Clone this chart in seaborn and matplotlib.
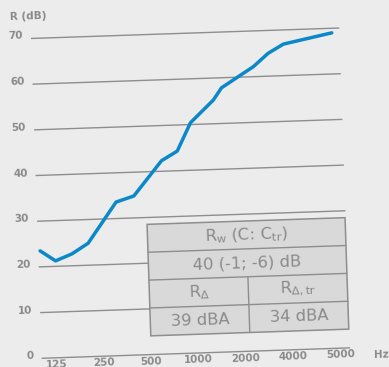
import numpy as np
import pandas as pd
import seaborn as sns
import matplotlib
matplotlib.use("Agg")
import matplotlib.pyplot as plt
from matplotlib.transforms import Affine2D
from matplotlib.patches import Polygon

# Frequency axis: labelled slots, evenly spaced along the bottom edge
freq_labels = ["125", "250", "500", "1000", "2000", "4000", "5000"]
# Sound reduction index R (dB) along the frequency axis (position in label slots)
x_slot = [-0.27, 0.05, 0.40, 0.75, 1.37, 1.75, 2.36, 2.70, 3.00, 3.50, 3.68, 4.37, 4.69, 5.02, 6.05]
r_db = [23.5, 21.2, 22.6, 24.8, 33.6, 34.8, 42.3, 44.3, 50.4, 55.2, 57.8, 62.2, 65.0, 66.9, 69.0]
# Gridline levels
r_ticks = [0, 10, 20, 30, 40, 50, 60, 70]
# Summary table
table_header = r"R$_\mathregular{w}$ (C: C$_\mathregular{tr}$)"
table_value = "40 (-1; -6) dB"
sub_headers = [r"R$_\mathregular{\Delta}$", r"R$_\mathregular{\Delta,tr}$"]
sub_values = ["39 dBA", "34 dBA"]

BG = "#ececec"
GRID = "#8e8e8e"
TEXT = "#8a8a8a"
BLUE = "#0a88c9"
CELL = "#d9d9d9"

sns.set_theme(style="white")
plt.rcParams["font.family"] = ["DejaVu Sans"]
plt.rcParams["mathtext.fontset"] = "dejavusans"

W, H = 389, 367
fig = plt.figure(figsize=(W / 100, H / 100), dpi=100, facecolor=BG)
ax = fig.add_axes([0, 0, 1, 1])
ax.set_facecolor(BG)

# Oblique projection of the chart plane (slot, dB) onto the canvas
plane = Affine2D(np.array([[47.25, -0.153, 56.45],
                           [-1.602, -4.569, 357.8],
                           [0.0, 0.0, 1.0]]))
T = plane + ax.transData
angle = np.degrees(np.arctan2(1.602, 47.25))

axis_font = dict(fontsize=7.5, color=TEXT, fontweight="bold",
                 rotation=angle, rotation_mode="anchor", transform=T)

# Gridlines
s_left, s_right = -0.312, 6.213
for v in r_ticks:
    ax.plot([s_left, s_right], [v, v], color=GRID, lw=1.0, transform=T, zorder=1,
            solid_capstyle="butt")
    ax.text(-0.48, v + 0.6, str(v), ha="right", va="center", **axis_font)

# Frequency labels
for i, lab in enumerate(freq_labels):
    ax.text(i, -1.45, lab, ha="center", va="center", **axis_font)
ax.text(6.86, -1.8, "Hz", ha="center", va="center", **axis_font)
ax.text(-0.746, 74.85, "R (dB)", ha="left", va="center", **axis_font)

# Measured curve
df = pd.DataFrame({"slot": x_slot, "R": r_db})
sns.lineplot(data=df, x="slot", y="R", ax=ax, color=BLUE, lw=2.5, sort=False,
             estimator=None, zorder=4)
curve = ax.lines[-1]
curve.set_transform(T)
curve.set_solid_joinstyle("round")

# Summary table
t_l, t_r, t_top, t_bot = 2.01, 6.20, 28.5, 4.1
t_mid = (t_l + t_r) / 2
row_h = (t_top - t_bot) / 4
ax.add_patch(Polygon([[t_l, t_bot], [t_r, t_bot], [t_r, t_top], [t_l, t_top]],
                     closed=True, facecolor=CELL, edgecolor=GRID, lw=1.1,
                     transform=T, zorder=2))
for k in range(1, 4):
    yk = t_top - k * row_h
    ax.plot([t_l, t_r], [yk, yk], color=GRID, lw=1.0, transform=T, zorder=3)
ax.plot([t_mid, t_mid], [t_bot, t_top - 2 * row_h], color=GRID, lw=1.0,
        transform=T, zorder=3)

cell_font = dict(fontsize=11.8, color=TEXT, ha="center", va="center",
                 rotation=angle, rotation_mode="anchor", transform=T, zorder=5)
ax.text((t_l + t_r) / 2, t_top - 0.5 * row_h, table_header, **cell_font)
ax.text((t_l + t_r) / 2, t_top - 1.5 * row_h, table_value, **cell_font)
for j, (hd, val) in enumerate(zip(sub_headers, sub_values)):
    cx = (t_l + t_mid) / 2 if j == 0 else (t_mid + t_r) / 2
    ax.text(cx, t_top - 2.5 * row_h, hd, **cell_font)
    ax.text(cx, t_top - 3.5 * row_h, val, **cell_font)

ax.set_xlim(0, W)
ax.set_ylim(H, 0)
ax.set_axis_off()

fig.savefig("out.png", dpi=100, facecolor=BG)
